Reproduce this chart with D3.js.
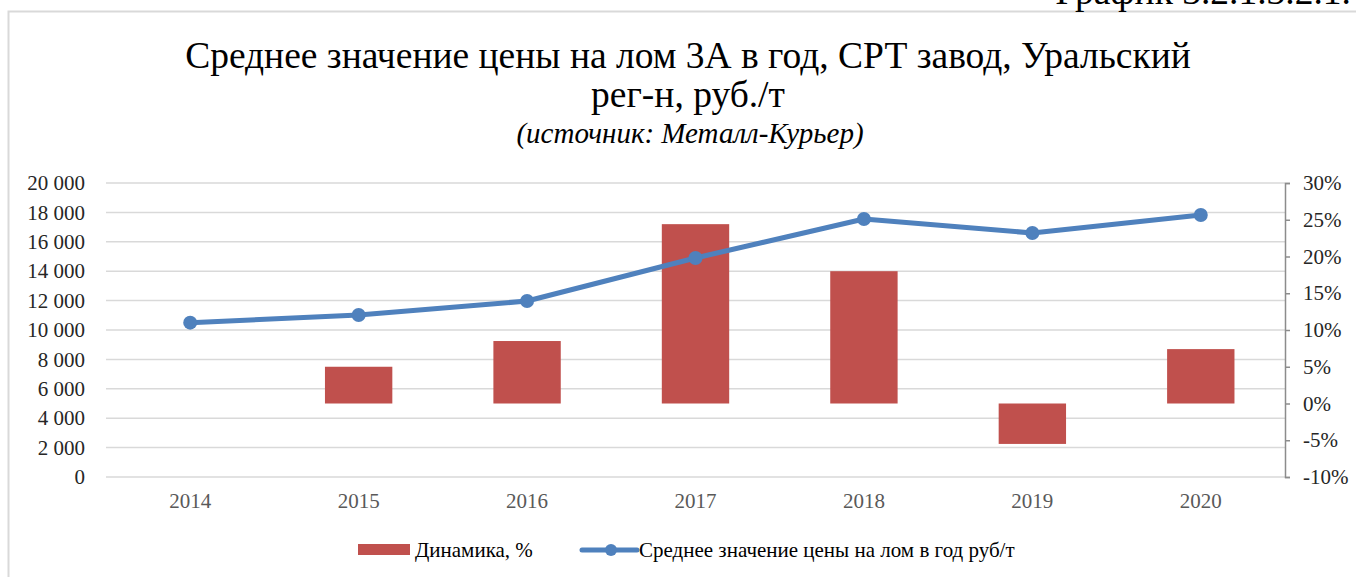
<!DOCTYPE html>
<html>
<head>
<meta charset="utf-8">
<script src="https://cdn.jsdelivr.net/npm/d3@7"></script>
<style>
  body { margin: 0; background: #fff; }
  svg { display: block; font-family: "Liberation Serif", "Times New Roman", serif; }
</style>
</head>
<body>
<div id="chart-region"></div>
<script>
const years = ["2014", "2015", "2016", "2017", "2018", "2019", "2020"];
// average price, rub/t (left axis)
const priceValues = [10500, 11020, 11970, 14900, 17550, 16600, 17820];
// dynamics, % (right axis), no value for 2014
const dynamicsValues = [null, 5.0, 8.5, 24.4, 18.0, -5.5, 7.4];
const leftTicks = [0, 2000, 4000, 6000, 8000, 10000, 12000, 14000, 16000, 18000, 20000];
const rightTicks = [-10, -5, 0, 5, 10, 15, 20, 25, 30];

const W = 1356, H = 577;
const plot = { left: 106, right: 1285, top: 183, bottom: 477 };
const serif = "Liberation Serif";

const svg = d3.select("#chart-region")
  .append("svg")
  .attr("width", W)
  .attr("height", H);

// outer chart border (partly cut by the page)
svg.append("path")
  .attr("d", `M8.5,${H + 2} V11.5 H${W + 2}`)
  .attr("fill", "none")
  .attr("stroke", "#d9d9d9")
  .attr("stroke-width", 2);

// caption above the chart, clipped at the top
svg.append("text")
  .attr("x", 1351)
  .attr("y", 4)
  .attr("text-anchor", "end")
  .style("font-size", "37.5px")
  .style("fill", "#000")
  .text("График 3.2.1.3.2.1.");

/* -------------------- TITLE -------------------- */

const title = svg.append("text")
  .attr("text-anchor", "middle")
  .style("font-size", "37.5px")
  .style("fill", "#000");
title.append("tspan").attr("x", 688).attr("y", 68)
  .text("Среднее значение цены на лом 3А в год, СРТ завод, Уральский");
title.append("tspan").attr("x", 688).attr("y", 107)
  .text("рег-н, руб./т");

svg.append("text")
  .attr("x", 690)
  .attr("y", 143)
  .attr("text-anchor", "middle")
  .style("font-size", "29px")
  .style("font-style", "italic")
  .style("fill", "#000")
  .text("(источник: Металл-Курьер)");

/* -------------------- SCALES -------------------- */

const x = d3.scaleBand()
  .domain(years)
  .range([plot.left, plot.right])
  .paddingInner(0.6)
  .paddingOuter(0.3);

const xc = d => x(d) + x.bandwidth() / 2;

const yLeft = d3.scaleLinear()
  .domain([0, 20000])
  .range([plot.bottom, plot.top]);

const yRight = d3.scaleLinear()
  .domain([-10, 30])
  .range([plot.bottom, plot.top]);

/* -------------------- GRID + AXES -------------------- */

svg.append("g")
  .selectAll("line")
  .data(leftTicks)
  .join("line")
  .attr("x1", plot.left)
  .attr("x2", plot.right)
  .attr("y1", d => yLeft(d))
  .attr("y2", d => yLeft(d))
  .attr("stroke", "#d9d9d9")
  .attr("stroke-width", 1.5);

const fmtThousands = d => d3.format(",")(d).replace(/,/g, " ");

const leftAxis = svg.append("g")
  .attr("transform", `translate(${plot.left}, 0)`)
  .call(d3.axisLeft(yLeft).tickValues(leftTicks).tickFormat(fmtThousands).tickSize(0).tickPadding(21))
  .attr("font-family", serif)
  .attr("font-size", 21);
leftAxis.select(".domain").remove();
leftAxis.selectAll("text").style("fill", "#262626");

const rightAxis = svg.append("g")
  .attr("transform", `translate(${plot.right}, 0)`)
  .call(d3.axisRight(yRight).tickValues(rightTicks).tickFormat(d => d + "%").tickSize(5).tickSizeOuter(5).tickPadding(13))
  .attr("font-family", serif)
  .attr("font-size", 21);
rightAxis.selectAll(".domain, line")
  .attr("stroke", "#8c8c8c")
  .attr("stroke-width", 1.5);
rightAxis.selectAll("text").style("fill", "#262626");

const bottomAxis = svg.append("g")
  .attr("transform", `translate(0, ${plot.bottom})`)
  .call(d3.axisBottom(x).tickSize(0).tickPadding(16))
  .attr("font-family", serif)
  .attr("font-size", 21);
bottomAxis.select(".domain").remove();
bottomAxis.selectAll("text").style("fill", "#595959");

/* -------------------- BARS -------------------- */

const barData = years
  .map((year, i) => ({ year, value: dynamicsValues[i] }))
  .filter(d => d.value !== null);

svg.append("g")
  .selectAll("rect")
  .data(barData)
  .join("rect")
  .attr("x", d => x(d.year))
  .attr("width", x.bandwidth())
  .attr("y", d => yRight(Math.max(0, d.value)))
  .attr("height", d => Math.abs(yRight(d.value) - yRight(0)))
  .attr("fill", "#c0504d");

/* -------------------- LINE -------------------- */

const lineData = years.map((year, i) => ({ year, value: priceValues[i] }));

svg.append("path")
  .datum(lineData)
  .attr("fill", "none")
  .attr("stroke", "#4f81bd")
  .attr("stroke-width", 5)
  .attr("stroke-linejoin", "round")
  .attr("d", d3.line().x(d => xc(d.year)).y(d => yLeft(d.value)));

svg.append("g")
  .selectAll("circle")
  .data(lineData)
  .join("circle")
  .attr("cx", d => xc(d.year))
  .attr("cy", d => yLeft(d.value))
  .attr("r", 7)
  .attr("fill", "#4f81bd");

/* -------------------- LEGEND -------------------- */

const legend = svg.append("g").attr("transform", "translate(0, 550)");

legend.append("rect")
  .attr("x", 358).attr("y", -6)
  .attr("width", 52).attr("height", 11)
  .attr("fill", "#c0504d");
legend.append("text")
  .attr("x", 415).attr("y", 7)
  .style("font-size", "21px")
  .style("fill", "#000")
  .text("Динамика, %");

legend.append("line")
  .attr("x1", 582).attr("x2", 637)
  .attr("y1", 0).attr("y2", 0)
  .attr("stroke", "#4f81bd")
  .attr("stroke-width", 5)
  .attr("stroke-linecap", "round");
legend.append("circle")
  .attr("cx", 611).attr("cy", 0).attr("r", 6)
  .attr("fill", "#4f81bd");
legend.append("text")
  .attr("x", 639).attr("y", 7)
  .style("font-size", "21px")
  .style("fill", "#000")
  .text("Среднее значение цены на лом в год руб/т");
</script>
</body>
</html>
